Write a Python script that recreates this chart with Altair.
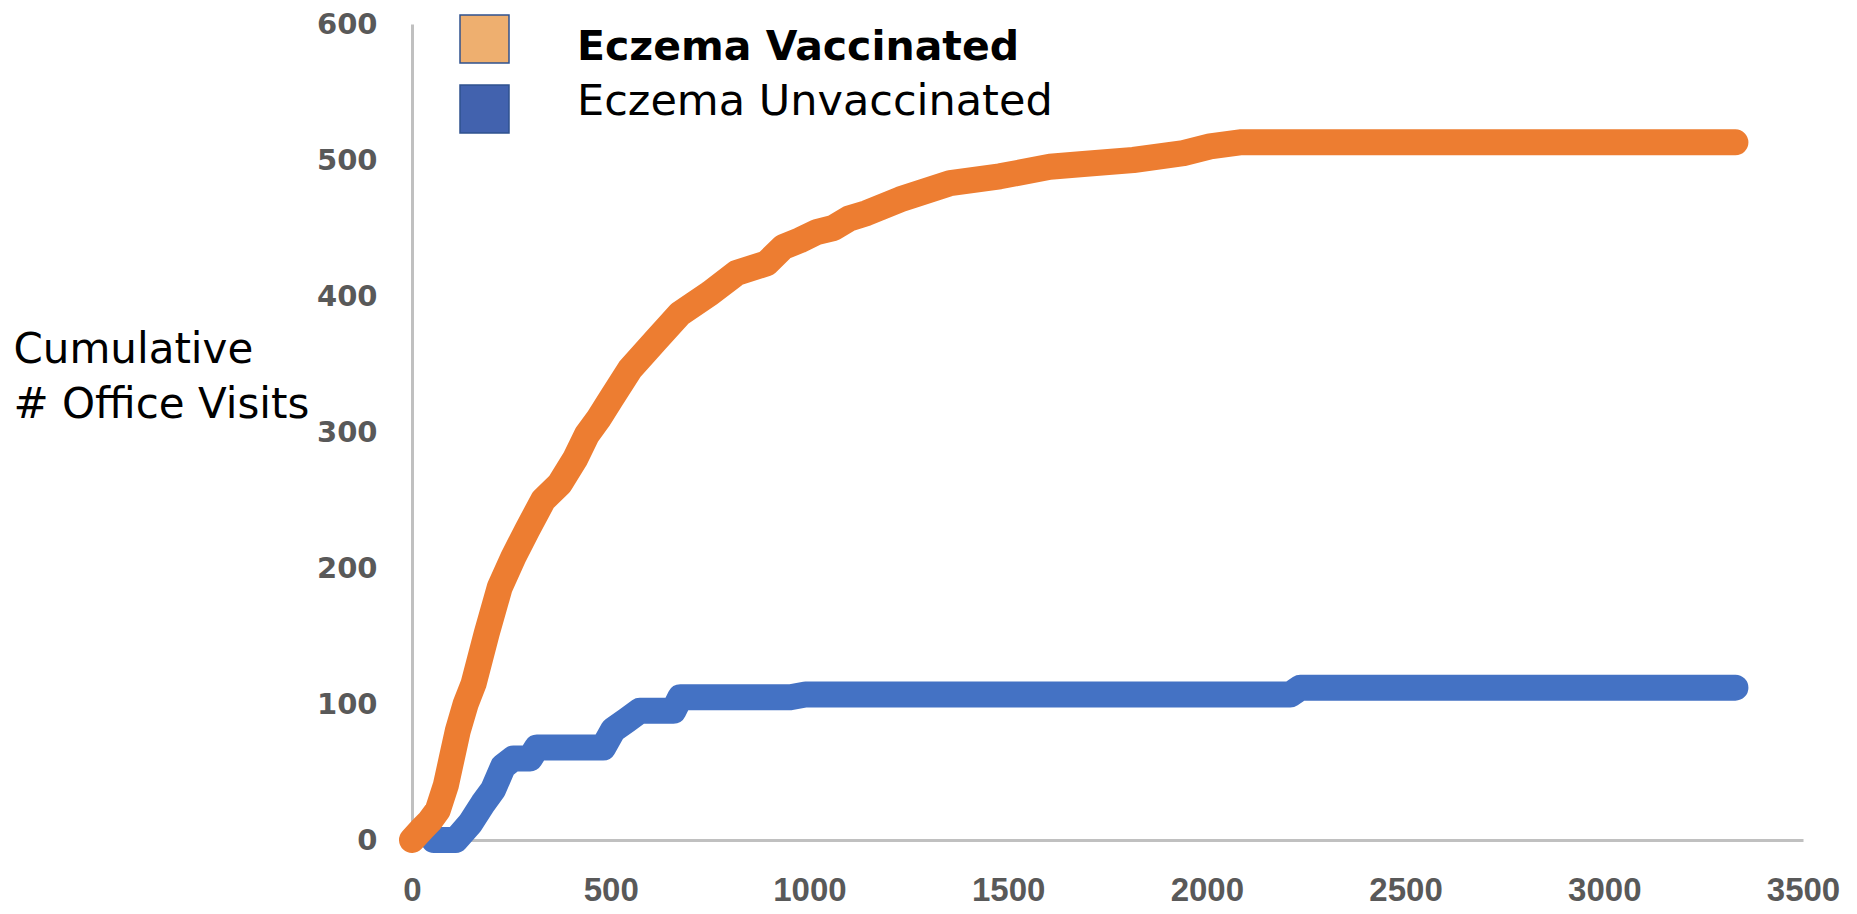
import altair as alt
import pandas as pd

# ---- data ----
series_names = ["Eczema Vaccinated", "Eczema Unvaccinated"]

vacc_days = [0, 25, 45, 65, 85, 100, 115, 135, 155, 188, 221, 255, 290, 330, 372, 410,
             440, 470, 500, 548, 615, 674, 750, 817, 892, 934, 976, 1018, 1060, 1100,
             1144, 1228, 1354, 1479, 1605, 1689, 1815, 1941, 2008, 2083, 2234, 3330]
vacc_visits = [0, 8, 14, 22, 40, 60, 80, 100, 115, 152, 186, 208, 228, 250, 262, 280,
               298, 310, 324, 346, 368, 387, 402, 417, 424, 436, 441, 447, 450, 457,
               461, 471, 483, 488, 495, 497, 500, 505, 510, 513, 513, 513]

unvacc_days = [55, 110, 146, 179, 204, 229, 255, 297, 314, 481, 506, 540, 573, 658,
               675, 952, 990, 2210, 2235, 3330]
unvacc_visits = [0, 0, 12, 27, 37, 54, 60, 60, 68, 68, 81, 88, 95, 95,
                 105, 105, 107, 107, 112, 112]

x_ticks = [0, 500, 1000, 1500, 2000, 2500, 3000, 3500]
y_ticks = [0, 100, 200, 300, 400, 500, 600]
y_title_lines = ["Cumulative", "# Office Visits"]

line_colors = ["#ED7D31", "#4472C4"]
swatch_colors = ["#EEAF6F", "#4262AE"]

# ---- tables ----
vacc_df = pd.DataFrame({"day": vacc_days, "visits": vacc_visits, "series": series_names[0]})
unvacc_df = pd.DataFrame({"day": unvacc_days, "visits": unvacc_visits, "series": series_names[1]})
legend_df = pd.DataFrame({"series": series_names})

x_scale = alt.Scale(domain=[0, 3500], nice=False, zero=True)
y_scale = alt.Scale(domain=[0, 600], nice=False, zero=True)
color_scale = alt.Scale(domain=series_names, range=line_colors)

x_axis = alt.Axis(values=x_ticks, format="d", title=None, grid=False, ticks=False,
                  labelFlush=False, labelOverlap=False,
                  labelFont="Liberation Sans", labelFontWeight="bold", labelFontSize=33,
                  labelColor="#595959", labelPadding=34,
                  domainColor="#C0C0C0", domainWidth=3)
y_axis = alt.Axis(values=y_ticks, format="d", title=y_title_lines, grid=False, ticks=False,
                  labelFlush=False, labelOverlap=False,
                  labelFont="DejaVu Sans", labelFontWeight="bold", labelFontSize=29,
                  labelColor="#595959", labelPadding=35,
                  domainColor="#C0C0C0", domainWidth=3,
                  titleAngle=0, titleAlign="left", titleBaseline="alphabetic",
                  titleX=-399, titleY=338, titleFont="DejaVu Sans", titleFontSize=42,
                  titleFontWeight="normal", titleColor="#000000", titleLineHeight=55)

blue_line = alt.Chart(unvacc_df).mark_line(
    strokeWidth=26, strokeCap="round", strokeJoin="round"
).encode(
    x=alt.X("day:Q", scale=x_scale, axis=x_axis),
    y=alt.Y("visits:Q", scale=y_scale, axis=y_axis),
    color=alt.Color("series:N", scale=color_scale, legend=None),
)

orange_line = alt.Chart(vacc_df).mark_line(
    strokeWidth=26, strokeCap="round", strokeJoin="round"
).encode(
    x=alt.X("day:Q", scale=x_scale),
    y=alt.Y("visits:Q", scale=y_scale),
    color=alt.Color("series:N", scale=color_scale, legend=None),
)

# ---- manual legend ----
sw1 = alt.Chart(legend_df).transform_filter(
    alt.datum.series == series_names[0]
).mark_rect(stroke="#2F528F", strokeWidth=1.5, fill=swatch_colors[0]).encode(
    x=alt.value(48), x2=alt.value(97), y=alt.value(-9), y2=alt.value(39)
)
sw2 = alt.Chart(legend_df).transform_filter(
    alt.datum.series == series_names[1]
).mark_rect(stroke="#2F528F", strokeWidth=1.5, fill=swatch_colors[1]).encode(
    x=alt.value(48), x2=alt.value(97), y=alt.value(61), y2=alt.value(109)
)
t1 = alt.Chart(legend_df).transform_filter(
    alt.datum.series == series_names[0]
).mark_text(align="left", baseline="alphabetic", font="DejaVu Sans", fontSize=41,
            fontWeight="bold", color="#000000").encode(
    x=alt.value(165), y=alt.value(36), text="series:N"
)
t2 = alt.Chart(legend_df).transform_filter(
    alt.datum.series == series_names[1]
).mark_text(align="left", baseline="alphabetic", font="DejaVu Sans", fontSize=43,
            fontWeight="normal", color="#000000").encode(
    x=alt.value(165), y=alt.value(91), text="series:N"
)

chart = alt.layer(blue_line, orange_line, sw1, sw2, t1, t2).properties(
    width=1391, height=816,
    autosize=alt.AutoSizeParams(type="none"),
    padding={"left": 404, "top": 16, "right": 46, "bottom": 66},
    background="#FFFFFF",
).configure_view(stroke=None)

chart.save("out.html", embed_options={"renderer": "svg", "actions": False})
